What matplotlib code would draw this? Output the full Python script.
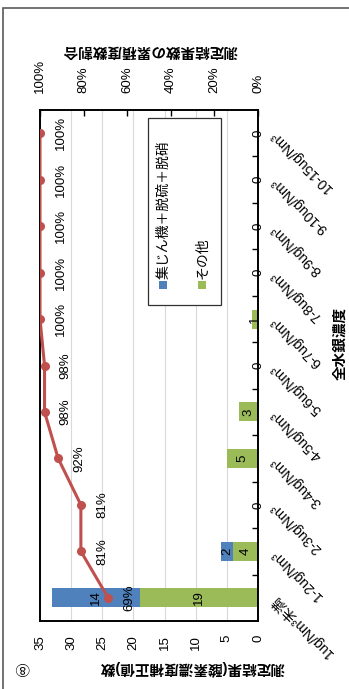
import numpy as np
import matplotlib
matplotlib.use("Agg")
import matplotlib.pyplot as plt
from matplotlib.patches import Rectangle
from matplotlib.ticker import FixedLocator, FuncFormatter

plt.rcParams['font.family'] = ['Liberation Sans', 'Noto Sans CJK JP', 'DejaVu Sans']

# ---- data ----
categories = ["1ug/Nm³未満", "1-2ug/Nm³", "2-3ug/Nm³", "3-4ug/Nm³", "4-5ug/Nm³",
              "5-6ug/Nm³", "6-7ug/Nm³", "7-8ug/Nm³", "8-9ug/Nm³", "9-10ug/Nm³",
              "10-15ug/Nm³"]
other = [19, 4, 0, 5, 3, 0, 1, 0, 0, 0, 0]
full_control = [14, 2, 0, 0, 0, 0, 0, 0, 0, 0, 0]
series_names = ["集じん機＋脱硫＋脱硝", "その他"]
count_ticks = [0, 5, 10, 15, 20, 25, 30, 35]
pct_ticks = [0.0, 0.2, 0.4, 0.6, 0.8, 1.0]

BLUE = "#4f81bd"
GREEN = "#9bbb59"
RED = "#c0504d"

idx = np.arange(len(categories))
other_a = np.array(other)
full_a = np.array(full_control)
totals = other_a + full_a
cum_share = np.cumsum(totals) / totals.sum()

W, H = 349, 689
fig = plt.figure(figsize=(W / 100, H / 100), dpi=100)


def fx(x):
    return x / W


def fy(y):
    return 1 - y / H


# outer chart frame
fig.add_artist(Rectangle((fx(3), fy(700)), fx(360), 692 / H, transform=fig.transFigure,
                         fill=False, edgecolor="#5a5a5a", lw=1.2, zorder=0))

ax = fig.add_axes([fx(40), fy(621), 218 / W, 511 / H])

# stacked horizontal bars (count axis runs right-to-left)
bar_h = 0.41
ax.barh(idx, other_a, height=bar_h, color=GREEN, zorder=2)
ax.barh(idx, full_a, left=other_a, height=bar_h, color=BLUE, zorder=2)

ax.set_xlim(35, 0)
ax.set_ylim(-0.5, len(categories) - 0.5)
ax.set_xticks(count_ticks)
ax.tick_params(axis='x', length=0, pad=10, labelsize=9.5, labelrotation=90)
ax.grid(axis='x', color='#d9d9d9', lw=0.8)
ax.set_axisbelow(True)

ax.yaxis.tick_right()
ax.set_yticks(idx)
ax.set_yticklabels(categories)
ax.yaxis.set_minor_locator(FixedLocator(np.arange(0.5, len(categories) - 1, 1.0)))
ax.tick_params(axis='y', which='major', length=0, pad=11, labelsize=10)
ax.tick_params(axis='y', which='minor', direction='in', length=4, width=1, color='black')
for lab in ax.get_yticklabels():
    lab.set_rotation(135)
    lab.set_rotation_mode('anchor')
    lab.set_ha('right')
    lab.set_va('center')

# bar value labels
for i in idx:
    g, b = other_a[i], full_a[i]
    ax.text(g / 2 if g > 0 else 0, i, str(g), rotation=90, ha='center', va='center',
            fontsize=9.5, zorder=5)
    if b > 0:
        ax.text(g + b / 2, i, str(b), rotation=90, ha='center', va='center',
                fontsize=9.5, zorder=5)

# cumulative share on the secondary (top) axis
ax2 = ax.twiny()
ax2.set_xlim(1, 0)
ax2.set_xticks(pct_ticks)
ax2.xaxis.set_major_formatter(FuncFormatter(lambda v, p: f"{v * 100:.0f}%"))
ax2.tick_params(axis='x', direction='in', length=4, width=1, pad=12, labelsize=9.5,
                labelrotation=90)
ax2.plot(cum_share, idx, color=RED, lw=2.2, marker='o', ms=5.5, zorder=3)
for i in idx:
    ax2.annotate(f"{cum_share[i] * 100:.0f}%", (cum_share[i], i), xytext=(11, 0),
                 textcoords='offset points', rotation=90, ha='left', va='center',
                 fontsize=9.5)

for a in (ax, ax2):
    for s in a.spines.values():
        s.set_color('black')
        s.set_linewidth(1.2)

# axis titles
fig.text(fx(150), fy(50), "測定結果数の累積度数割合", rotation=180, ha='center', va='center',
         fontsize=10.5, fontweight='bold')
fig.text(fx(192), fy(668), "測定結果(酸素濃度補正値)数", rotation=180, ha='center', va='center',
         fontsize=10.5, fontweight='bold')
fig.text(fx(340), fy(343), "全水銀濃度", rotation=90, ha='center', va='center',
         fontsize=10.5, fontweight='bold')
fig.text(fx(22), fy(667), "⑧", rotation=180, ha='center', va='center', fontsize=10.5,
         family=['Noto Sans CJK JP', 'DejaVu Sans'])

# legend box
fig.add_artist(Rectangle((fx(148), fy(305)), 73 / W, 187 / H, transform=fig.transFigure,
                         facecolor='white', edgecolor='#303030', lw=0.9, zorder=6))
for xpx, col, name in zip((163, 202), (BLUE, GREEN), series_names):
    fig.add_artist(Rectangle((fx(xpx - 4), fy(289)), 8 / W, 8 / H, transform=fig.transFigure,
                             facecolor=col, edgecolor='none', zorder=7))
    fig.text(fx(xpx), fy(279), name, rotation=90, ha='center', va='bottom', fontsize=10,
             zorder=7)

fig.savefig("out.png", dpi=100)
